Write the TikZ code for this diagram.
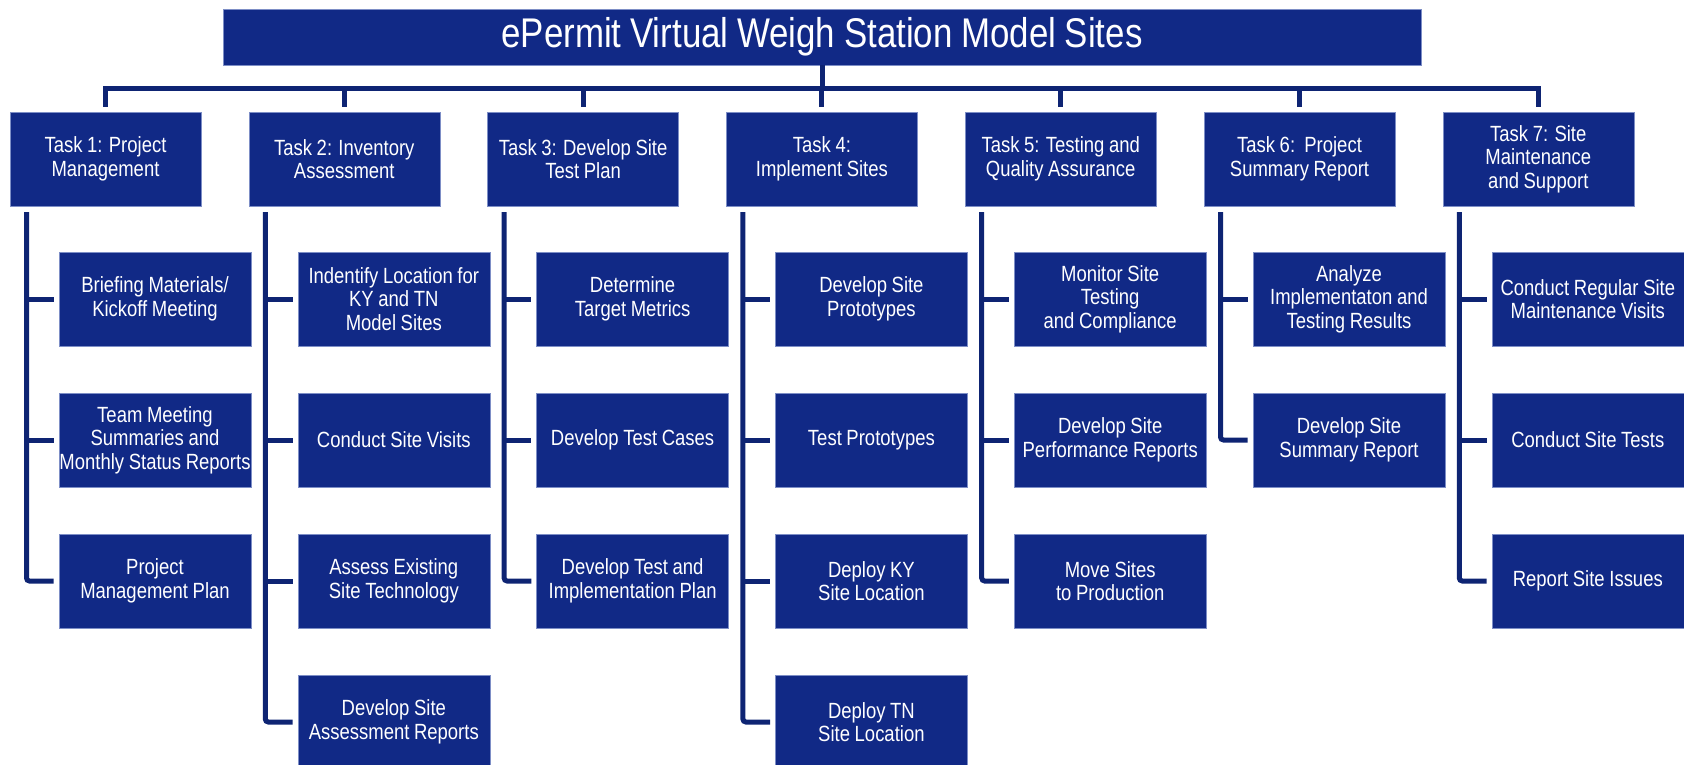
\documentclass[tikz,border=0pt]{standalone}
\usepackage{fontspec}
\setmainfont{Liberation Sans}[FakeStretch=0.84,WordSpace=0.9]
\definecolor{boxblue}{RGB}{17,41,134}
\definecolor{linkblue}{RGB}{14,36,115}
\definecolor{edgeblue}{RGB}{125,142,198}

\begin{document}
\begin{tikzpicture}[x=1pt,y=-1pt,
  head/.style={fill=boxblue,draw=edgeblue,line width=0.6pt,text=white,inner sep=0pt,
    minimum width=1198pt,minimum height=56pt,font=\fontsize{41.5}{46}\selectfont},
  task/.style={fill=boxblue,draw=edgeblue,line width=0.6pt,text=white,inner sep=0pt,
    align=center,minimum width=191pt,minimum height=94pt,
    font=\fontsize{22}{23.5}\selectfont},
  sub/.style={task,minimum width=192pt},
  link/.style={draw=linkblue,line width=5pt},
  branch/.style={link,shorten >=5pt},
  column/.style={link,rounded corners=3pt,shorten >=5pt}]
  \useasboundingbox (0,0) rectangle (1684,765);

  \node[head] (title) at (822,37) {ePermit Virtual Weigh Station Model Sites};

  \node[task] (t1) at ( 105.5,159) {Task 1: Project\\Management};
  \node[task] (t2) at ( 344.3,159) {Task 2: Inventory\\Assessment};
  \node[task] (t3) at ( 583.1,159) {Task 3: Develop Site\\Test Plan};
  \node[task] (t4) at ( 821.9,159) {Task 4:\\Implement Sites};
  \node[task] (t5) at (1060.7,159) {Task 5: Testing and\\Quality Assurance};
  \node[task] (t6) at (1299.5,159) {Task 6:\ \ Project\\Summary Report};
  \node[task] (t7) at (1538.3,159) {Task 7: Site\\Maintenance\\and Support};

  % task 1
  \node[sub] (s11) at ( 155.0,299) {Briefing Materials/\\Kickoff Meeting};
  \node[sub] (s12) at ( 155.0,440) {Team Meeting\\Summaries and\\Monthly Status Reports};
  \node[sub] (s13) at ( 155.0,581) {Project\\Management Plan};
  % task 2
  \node[sub] (s21) at ( 393.8,299) {Indentify Location for\\KY and TN\\Model Sites};
  \node[sub] (s22) at ( 393.8,440) {Conduct Site Visits};
  \node[sub] (s23) at ( 393.8,581) {Assess Existing\\Site Technology};
  \node[sub] (s24) at ( 393.8,722) {Develop Site\\Assessment Reports};
  % task 3
  \node[sub] (s31) at ( 632.6,299) {Determine\\Target Metrics};
  \node[sub] (s32) at ( 632.6,440) {Develop Test Cases};
  \node[sub] (s33) at ( 632.6,581) {Develop Test and\\Implementation Plan};
  % task 4
  \node[sub] (s41) at ( 871.4,299) {Develop Site\\Prototypes};
  \node[sub] (s42) at ( 871.4,440) {Test Prototypes};
  \node[sub] (s43) at ( 871.4,581) {Deploy KY\\Site Location};
  \node[sub] (s44) at ( 871.4,722) {Deploy TN\\Site Location};
  % task 5
  \node[sub] (s51) at (1110.2,299) {Monitor Site\\Testing\\and Compliance};
  \node[sub] (s52) at (1110.2,440) {Develop Site\\Performance Reports};
  \node[sub] (s53) at (1110.2,581) {Move Sites\\to Production};
  % task 6
  \node[sub] (s61) at (1349.0,299) {Analyze\\Implementaton and\\Testing Results};
  \node[sub] (s62) at (1349.0,440) {Develop Site\\Summary Report};
  % task 7
  \node[sub] (s71) at (1587.8,299) {Conduct Regular Site\\Maintenance Visits};
  \node[sub] (s72) at (1587.8,440) {Conduct Site Tests};
  \node[sub] (s73) at (1587.8,581) {Report Site Issues};

  % bus from title to tasks
  \coordinate (bus) at (822,89);
  \draw[link] (title.south) -- (bus);
  \draw[link] ([yshift=5pt]t1.north) |- (bus) -| ([yshift=5pt]t7.north);
  \draw[link] (t2 |- bus) -- ([yshift=5pt]t2.north);
  \draw[link] (t3 |- bus) -- ([yshift=5pt]t3.north);
  \draw[link] (t4 |- bus) -- ([yshift=5pt]t4.north);
  \draw[link] (t5 |- bus) -- ([yshift=5pt]t5.north);
  \draw[link] (t6 |- bus) -- ([yshift=5pt]t6.north);

  % columns under the tasks
  \coordinate (v1) at (  26.5,212);
  \coordinate (v2) at ( 265.3,212);
  \coordinate (v3) at ( 504.1,212);
  \coordinate (v4) at ( 742.9,212);
  \coordinate (v5) at ( 981.7,212);
  \coordinate (v6) at (1220.5,212);
  \coordinate (v7) at (1459.3,212);
  \draw[column] (v1) |- (s13.west);
  \draw[column] (v2) |- (s24.west);
  \draw[column] (v3) |- (s33.west);
  \draw[column] (v4) |- (s44.west);
  \draw[column] (v5) |- (s53.west);
  \draw[column] (v6) |- (s62.west);
  \draw[column] (v7) |- (s73.west);
  \draw[branch] (v1 |- s11) -- (s11.west);
  \draw[branch] (v1 |- s12) -- (s12.west);
  \draw[branch] (v2 |- s21) -- (s21.west);
  \draw[branch] (v2 |- s22) -- (s22.west);
  \draw[branch] (v2 |- s23) -- (s23.west);
  \draw[branch] (v3 |- s31) -- (s31.west);
  \draw[branch] (v3 |- s32) -- (s32.west);
  \draw[branch] (v4 |- s41) -- (s41.west);
  \draw[branch] (v4 |- s42) -- (s42.west);
  \draw[branch] (v4 |- s43) -- (s43.west);
  \draw[branch] (v5 |- s51) -- (s51.west);
  \draw[branch] (v5 |- s52) -- (s52.west);
  \draw[branch] (v6 |- s61) -- (s61.west);
  \draw[branch] (v7 |- s71) -- (s71.west);
  \draw[branch] (v7 |- s72) -- (s72.west);
\end{tikzpicture}
\end{document}
